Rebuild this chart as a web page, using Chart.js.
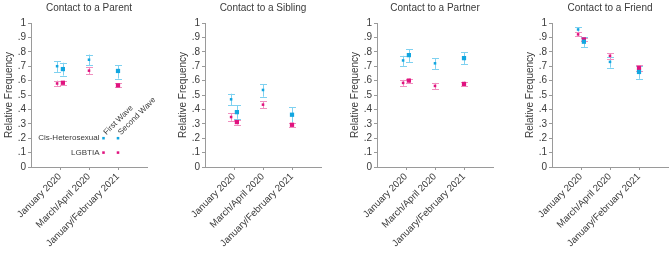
<!DOCTYPE html>
<html>
<head>
<meta charset="utf-8">
<script src="https://cdn.jsdelivr.net/npm/chart.js@4.4.0/dist/chart.umd.min.js"></script>
<style>
  body { margin: 0; background: #fff; overflow: hidden; width: 669px; height: 253px; position: relative; }
  canvas { position: absolute; top: 0; }
</style>
</head>
<body>
<canvas id="c0" width="174" height="253" style="left:0px"></canvas>
<canvas id="c1" width="174" height="253" style="left:174px"></canvas>
<canvas id="c2" width="174" height="253" style="left:346px"></canvas>
<canvas id="c3" width="174" height="253" style="left:521px"></canvas>
<script>
// categories and panel titles
const categories = ['January 2020', 'March/April 2020', 'January/February 2021'];
const titles = ['Contact to a Parent', 'Contact to a Sibling', 'Contact to a Partner', 'Contact to a Friend'];

// x positions: first wave = Jan 2020 + Mar/Apr 2020, second wave = Jan 2020 + Jan/Feb 2021
const firstWaveX = [0.9, 2];
const secondWaveX = [1.1, 3];

// one row per panel (parent, sibling, partner, friend)
const cisFirstMean = [[0.70, 0.745], [0.47, 0.535], [0.74, 0.72], [0.955, 0.73]];
const cisFirstLow = [[0.66, 0.708], [0.428, 0.488], [0.702, 0.681], [0.94, 0.69]];
const cisFirstHigh = [[0.733, 0.781], [0.509, 0.574], [0.772, 0.756], [0.97, 0.767]];

const cisSecondMean = [[0.68, 0.667], [0.381, 0.363], [0.777, 0.756], [0.87, 0.66]];
const cisSecondLow = [[0.635, 0.614], [0.335, 0.309], [0.73, 0.714], [0.833, 0.612]];
const cisSecondHigh = [[0.724, 0.707], [0.428, 0.414], [0.816, 0.798], [0.902, 0.702]];

const lgbtFirstMean = [[0.58, 0.669], [0.347, 0.433], [0.584, 0.563], [0.921, 0.772]];
const lgbtFirstLow = [[0.563, 0.644], [0.321, 0.407], [0.563, 0.542], [0.907, 0.753]];
const lgbtFirstHigh = [[0.60, 0.695], [0.372, 0.456], [0.605, 0.584], [0.935, 0.79]];

const lgbtSecondMean = [[0.585, 0.567], [0.312, 0.293], [0.6, 0.577], [0.886, 0.688]];
const lgbtSecondLow = [[0.572, 0.553], [0.295, 0.279], [0.584, 0.563], [0.874, 0.67]];
const lgbtSecondHigh = [[0.598, 0.58], [0.328, 0.309], [0.614, 0.593], [0.898, 0.707]];

// legend (drawn inside the first panel)
const legendGroups = ['Cis-Heterosexual', 'LGBTIA'];
const legendWaves = ['First Wave', 'Second Wave'];
const legendX = [2.5, 3];
const legendY = [0.2, 0.1];

const CYAN = '#12a6e0', CYAN_CI = '#7fd1f0';
const PINK = '#e0137f', PINK_CI = '#f090c0';
const TEXT = '#3a3a3a', AXIS = '#9a9a9a';
const FONT = '"Liberation Sans", Arial, sans-serif';

function series(xs, mean, low, high, color, ciColor, r) {
    return {
        data: xs.map((x, i) => ({ x: x, y: mean[i] })),
        ci: xs.map((x, i) => [low[i], high[i]]),
        ciColor: ciColor,
        backgroundColor: color,
        borderColor: color,
        borderWidth: 0,
        pointStyle: 'rect',
        pointRadius: r,
        pointHoverRadius: r
    };
}

// error bars with caps, drawn under the points
const errorBars = {
    id: 'errorBars',
    beforeDatasetsDraw(chart) {
        const { ctx, scales: { x, y } } = chart;
        ctx.save();
        ctx.lineWidth = 1;
        chart.data.datasets.forEach(ds => {
            if (!ds.ci) return;
            ctx.strokeStyle = ds.ciColor;
            ds.data.forEach((p, i) => {
                const px = Math.round(x.getPixelForValue(p.x)) + 0.5;
                const lo = y.getPixelForValue(ds.ci[i][0]);
                const hi = y.getPixelForValue(ds.ci[i][1]);
                ctx.beginPath();
                ctx.moveTo(px, lo); ctx.lineTo(px, hi);
                ctx.moveTo(px - 3.5, Math.round(lo) + 0.5); ctx.lineTo(px + 3.5, Math.round(lo) + 0.5);
                ctx.moveTo(px - 3.5, Math.round(hi) + 0.5); ctx.lineTo(px + 3.5, Math.round(hi) + 0.5);
                ctx.stroke();
            });
        });
        ctx.restore();
    }
};

// legend labels for the first panel
const legendText = {
    id: 'legendText',
    afterDatasetsDraw(chart) {
        if (!chart.options.plugins.legendText.show) return;
        const { ctx, scales: { x, y } } = chart;
        ctx.save();
        ctx.fillStyle = TEXT;
        ctx.font = '8px ' + FONT;
        ctx.textAlign = 'right';
        ctx.textBaseline = 'middle';
        legendGroups.forEach((g, i) => {
            ctx.fillText(g, x.getPixelForValue(legendX[0]) - 4, y.getPixelForValue(legendY[i]));
        });
        ctx.textAlign = 'left';
        ctx.textBaseline = 'alphabetic';
        legendWaves.forEach((w, i) => {
            ctx.save();
            ctx.translate(x.getPixelForValue(legendX[i]) + 3, y.getPixelForValue(legendY[0]) - 3);
            ctx.rotate(-Math.PI / 4);
            ctx.fillText(w, 0, 0);
            ctx.restore();
        });
        ctx.restore();
    }
};

titles.forEach((title, k) => {
    const datasets = [
        series(firstWaveX, cisFirstMean[k], cisFirstLow[k], cisFirstHigh[k], CYAN, CYAN_CI, 1.8),
        series(secondWaveX, cisSecondMean[k], cisSecondLow[k], cisSecondHigh[k], CYAN, CYAN_CI, 3),
        series(firstWaveX, lgbtFirstMean[k], lgbtFirstLow[k], lgbtFirstHigh[k], PINK, PINK_CI, 1.8),
        series(secondWaveX, lgbtSecondMean[k], lgbtSecondLow[k], lgbtSecondHigh[k], PINK, PINK_CI, 3)
    ];
    if (k === 0) {
        const colors = [CYAN, PINK];
        legendY.forEach((ly, i) => {
            datasets.push({
                data: legendX.map(lx => ({ x: lx, y: ly })),
                backgroundColor: colors[i],
                borderColor: colors[i],
                borderWidth: 0,
                pointStyle: 'rect',
                pointRadius: 1.8
            });
        });
    }

    new Chart(document.getElementById('c' + k), {
        type: 'scatter',
        data: { datasets: datasets },
        plugins: [errorBars, legendText],
        options: {
            responsive: false,
            animation: false,
            events: [],
            layout: { padding: { left: 0, right: 27, top: 0, bottom: 0 } },
            scales: {
                x: {
                    type: 'linear',
                    min: 0,
                    max: 4,
                    afterBuildTicks: s => { s.ticks = [1, 2, 3].map(v => ({ value: v })); },
                    afterFit: s => { s.height = 86; },
                    grid: { display: true, drawOnChartArea: false, drawTicks: true, tickLength: 3, color: AXIS },
                    border: { display: true, color: AXIS },
                    ticks: {
                        minRotation: 45,
                        maxRotation: 45,
                        autoSkip: false,
                        padding: 1,
                        color: TEXT,
                        font: { family: FONT, size: 9.6 },
                        callback: v => categories[v - 1]
                    }
                },
                y: {
                    min: 0,
                    max: 1,
                    afterFit: s => { s.width = 31; },
                    grid: { display: true, drawOnChartArea: false, drawTicks: true, tickLength: 3, color: AXIS },
                    border: { display: true, color: AXIS },
                    title: {
                        display: true,
                        text: 'Relative Frequency',
                        color: TEXT,
                        font: { family: FONT, size: 10 },
                        padding: { top: 3, bottom: 0 }
                    },
                    ticks: {
                        stepSize: 0.1,
                        autoSkip: false,
                        padding: 2,
                        color: TEXT,
                        font: { family: FONT, size: 10 },
                        callback: v => {
                            const n = Math.round(v * 10);
                            return n === 0 ? '0' : n === 10 ? '1' : '.' + n;
                        }
                    }
                }
            },
            plugins: {
                legend: { display: false },
                tooltip: { enabled: false },
                legendText: { show: k === 0 },
                title: {
                    display: true,
                    text: title,
                    fullSize: false,
                    color: TEXT,
                    font: { family: FONT, size: 10, weight: 'normal' },
                    padding: { top: 2, bottom: 9 }
                }
            }
        }
    });
});
</script>
</body>
</html>
